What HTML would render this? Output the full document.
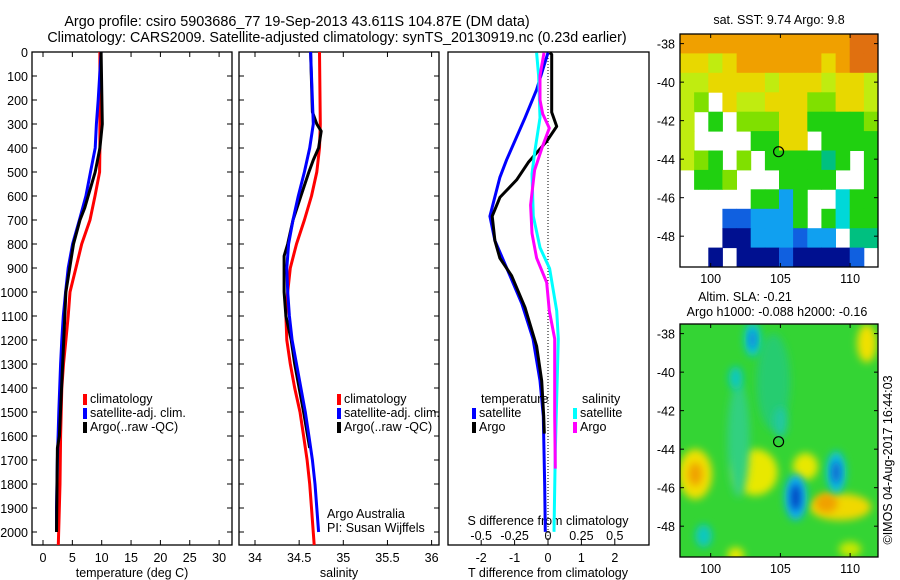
<!DOCTYPE html>
<html><head><meta charset="utf-8"><style>
body{margin:0;background:#fff;width:900px;height:580px;overflow:hidden}
svg{display:block;font-family:"Liberation Sans",sans-serif}
</style></head><body>
<svg id="fig" width="900" height="580" viewBox="0 0 900 580" xmlns="http://www.w3.org/2000/svg">
<text x="297" y="26" font-size="14.4" text-anchor="middle">Argo profile: csiro 5903686_77 19-Sep-2013 43.611S 104.87E (DM data)</text>
<text x="337" y="42" font-size="14.3" text-anchor="middle">Climatology: CARS2009. Satellite-adjusted climatology: synTS_20130919.nc (0.23d earlier)</text>
<text x="779" y="24" font-size="12.5" text-anchor="middle">sat. SST: 9.74 Argo: 9.8</text>
<text x="745" y="301" font-size="12.5" text-anchor="middle">Altim. SLA: -0.21</text>
<text x="777" y="316" font-size="12.5" text-anchor="middle">Argo h1000: -0.088 h2000: -0.16</text>
<text transform="translate(892,460) rotate(-90)" font-size="12.5" text-anchor="middle">©IMOS 04-Aug-2017 16:44:03</text>
<defs><filter id="bl" x="-50%" y="-50%" width="200%" height="200%"><feGaussianBlur stdDeviation="4"/></filter>
<clipPath id="clipB"><rect x="680" y="324" width="198" height="233"/></clipPath></defs>
</svg>
<script>
// ---------- data ----------
const tClimDepth=[0,100,300,400,500,600,700,800,900,1000,1100,1200,1300,1400,1600,1800,2054];
const tClim=[9.7,9.7,9.7,9.7,9.65,8.86,8.0,6.6,5.6,4.6,4.3,3.9,3.5,3.2,3.0,2.9,2.6];
const tSatDepth=[0,200,300,400,500,600,700,800,900,1000,1100,1200,1300,1400,1500,1700,1900,2000];
const tSat=[9.9,9.4,9.1,8.9,8.1,7.3,6.2,5.05,4.3,3.85,3.45,3.2,3.0,2.85,2.7,2.45,2.3,2.3];
const tArgoDepth=[0,300,400,500,600,650,700,800,1000,1600,1650,2000];
const tArgo=[9.9,10.1,9.7,8.9,7.7,7.1,6.3,5.2,3.9,2.8,2.45,2.3];
const sClimDepth=[0,300,400,500,600,700,800,900,1000,1100,1200,1300,1400,1500,1600,1700,1800,1900,2054];
const sClim=[34.73,34.74,34.73,34.70,34.64,34.56,34.47,34.40,34.37,34.35,34.36,34.40,34.45,34.51,34.55,34.59,34.62,34.64,34.67];
const sSatDepth=[0,200,300,400,500,600,700,800,900,1000,1100,1200,1300,1400,1500,1600,1700,1800,1900,2000];
const sSat=[34.63,34.65,34.66,34.62,34.56,34.49,34.43,34.38,34.36,34.37,34.39,34.42,34.47,34.52,34.57,34.61,34.65,34.68,34.70,34.72];
const sArgoDepth=[0,250,300,330,400,450,500,600,700,800,850,1000,1100,1200,1300,1500,1650];
const sArgo=[34.63,34.65,34.70,34.75,34.72,34.66,34.61,34.52,34.43,34.37,34.33,34.33,34.35,34.41,34.45,34.55,34.62];
const dTSatDepth=[3,157,274,449,522,684,786,902,1049,1195,1370,1517,1808,1999];
const dTSat=[0,-0.34,-0.69,-1.24,-1.44,-1.74,-1.59,-1.23,-0.78,-0.45,-0.24,-0.14,-0.1,-0.08];
const dTArgoDepth=[3,10,251,310,372,460,533,606,684,786,859,932,1064,1225,1370,1517,1590];
const dTArgo=[0.05,0.11,0.11,0.26,-0.04,-0.59,-0.94,-1.44,-1.67,-1.59,-1.44,-1.09,-0.69,-0.34,-0.19,-0.13,-0.11];
const dSSatDepth=[3,98,274,420,508,684,815,902,1078,1195,1443,1663,1999];
const dSSat=[-0.085,-0.07,-0.06,-0.1,-0.12,-0.11,-0.06,0.012,0.065,0.077,0.065,0.055,0.045];
const dSArgoDepth=[3,98,200,258,317,391,492,638,756,858,961,1078,1195,1517,1736];
const dSArgo=[-0.03,-0.06,-0.06,-0.04,0.01,-0.04,-0.1,-0.13,-0.12,-0.085,-0.01,0.01,0.05,0.05,0.055];
const depthTicks=[0,100,200,300,400,500,600,700,800,900,1000,1100,1200,1300,1400,1500,1600,1700,1800,1900,2000];
const tTicks=[0,5,10,15,20,25,30];
const sTicks=[34,34.5,35,35.5,36];
const sTickLabels=['34','34.5','35','35.5','36'];
const dTTicks=[-2,-1,0,1,2];
const dSTicks=[-0.5,-0.25,0,0.25,0.5];
const dSTickLabels=['-0.5','-0.25','0','0.25','0.5'];
const lonTicks=[100,105,110];
const latTicks=[-38,-40,-42,-44,-46,-48];
const sstGrid=[
"OOOOOOOOOOOODD",
"YYLYOOOOOOYODD",
"LLYYYYLYYYLYYL",
"LGWYLLYYYGGYYL",
"LWgWGGGYYggggG",
"LWWWWggYYWgggg",
"LGgWGWggggTgWg",
"WggGWWWggggWWg",
"WWWWWggBgWWCgg",
"WWWMMBBBgWgCgg",
"WWWNNBBBMBBWTT",
"WWNWNNNMNNNNMW"];
const sstColors={O:'#f0a000',D:'#e07010',Y:'#e8d800',L:'#c0ec10',G:'#80e000',g:'#20d010',T:'#00c080',C:'#00d8d8',B:'#10a0f0',M:'#1060e0',N:'#001090',W:'#ffffff'};
const argoLon=104.87, argoLat=-43.611;
// SLA blobs: [lon, lat, rLon, rLat, colour]
const slaBlobs=[
[98.9,-45.3,1.2,1.3,'#f0e000'],[98.9,-45.3,0.5,0.6,'#f0a000'],
[103.2,-45.2,1.6,1.2,'#e8e800'],[106.8,-44.9,0.9,0.7,'#e8e800'],
[109.3,-47.0,2.2,0.7,'#f0d800'],[108.3,-46.8,0.8,0.5,'#f0a000'],
[111.2,-38.5,0.7,1.0,'#f0e000'],[101.8,-49.5,0.6,0.4,'#e8e800'],[110.0,-49.2,0.8,0.4,'#c8e800'],
[102.0,-43.5,0.8,3.0,'#30d080'],[104.5,-40.5,1.2,2.5,'#28cc70'],[99.5,-48.5,0.6,0.6,'#10c8c0'],
[103.0,-38.3,0.6,0.9,'#10c8d0'],[103.0,-38.3,0.25,0.5,'#1080e0'],
[101.8,-40.3,0.5,0.6,'#10c8c0'],[105.0,-42.6,0.5,0.8,'#20c8a0'],
[106.1,-46.5,0.8,1.2,'#10b0f0'],[106.1,-46.5,0.35,0.7,'#0040c0'],
[109.0,-45.2,0.7,1.1,'#10c0e0'],[109.0,-45.2,0.3,0.6,'#1060d0']];

const svg=document.getElementById('fig');
const NS='http://www.w3.org/2000/svg';
function mk(tag,attrs,name,parent){const el=document.createElementNS(NS,tag);for(const k in attrs)el.setAttribute(k,attrs[k]);


(parent||svg).appendChild(el);return el;}
function txt(x,y,s,name,anchor,size){const t=mk('text',{x:x,y:y,'font-size':size||12.5,'text-anchor':anchor||'middle'},name);t.textContent=s;return t;}

const top0=52,bot0=545;
const yD=d=>top0+d*0.24;
function panel(x0,x1,xs,ticks,labels,name,xlab){
  mk('rect',{x:x0,y:top0,width:x1-x0,height:bot0-top0,fill:'none',stroke:'#000','stroke-width':1.3},name+'-frame');
  depthTicks.forEach(d=>{mk('line',{x1:x0,x2:x0+5,y1:yD(d),y2:yD(d),stroke:'#000'},name+'-ytick');mk('line',{x1:x1-5,x2:x1,y1:yD(d),y2:yD(d),stroke:'#000'},name+'-ytick');});
  ticks.forEach((v,i)=>{const x=xs(v);mk('line',{x1:x,x2:x,y1:bot0,y2:bot0-5,stroke:'#000'},name+'-xtick');mk('line',{x1:x,x2:x,y1:top0,y2:top0+5,stroke:'#000'},name+'-xtick');if(labels)txt(x,562,labels[i],name+'-xtick-label');});
  if(xlab)txt((x0+x1)/2,577,xlab,name+'-x-axis-title');
}
function line(xs,vals,depths,col,name){
  let p='';for(let i=0;i<vals.length;i++)p+=xs(vals[i]).toFixed(1)+','+yD(depths[i]).toFixed(1)+' ';
  mk('polyline',{points:p,fill:'none',stroke:col,'stroke-width':3,'stroke-linejoin':'round'},name);
}
function legendEntry(x,y,col,label,name){mk('rect',{x:x,y:y-9,width:4,height:11,fill:col},name+'-swatch');txt(x+7,y,label,name,'start',12.5);}

depthTicks.forEach(d=>txt(28,yD(d)+5,String(d),'depth-tick-label','end',12.5));

const xT=v=>43+v*5.87;
panel(32,232,xT,tTicks,tTicks.map(String),'temperature-panel','temperature (deg C)');
line(xT,tClim,tClimDepth,'#ff0000','temp-climatology-line');
line(xT,tSat,tSatDepth,'#0000ff','temp-satellite-line');
line(xT,tArgo,tArgoDepth,'#000000','temp-argo-line');
legendEntry(83,403,'#ff0000','climatology','temp-legend-climatology');
legendEntry(83,417,'#0000ff','satellite-adj. clim.','temp-legend-satellite');
legendEntry(83,431,'#000000','Argo(..raw -QC)','temp-legend-argo');

const xS=v=>255+(v-34)*88.3;
panel(239,439,xS,sTicks,sTickLabels,'salinity-panel','salinity');
line(xS,sClim,sClimDepth,'#ff0000','sal-climatology-line');
line(xS,sArgo,sArgoDepth,'#000000','sal-argo-line');
line(xS,sSat,sSatDepth,'#0000ff','sal-satellite-line');
legendEntry(337,403,'#ff0000','climatology','sal-legend-climatology');
legendEntry(337,417,'#0000ff','satellite-adj. clim.','sal-legend-satellite');
legendEntry(337,431,'#000000','Argo(..raw -QC)','sal-legend-argo');
txt(327,518,'Argo Australia','argo-australia-label','start',12.5);
txt(327,532,'PI: Susan Wijffels','pi-label','start',12.5);

const xdT=v=>548+v*33.4;
const xdS=v=>548+v*133.6;
mk('rect',{x:448,y:top0,width:201,height:bot0-top0,fill:'none',stroke:'#000','stroke-width':1.3},'difference-panel-frame');
mk('line',{x1:548,x2:548,y1:top0,y2:bot0,stroke:'#000','stroke-dasharray':'1,2'},'zero-reference-line');
dTTicks.forEach(v=>{mk('line',{x1:xdT(v),x2:xdT(v),y1:bot0,y2:bot0-5,stroke:'#000'},'tdiff-xtick');txt(xdT(v),562,String(v),'tdiff-tick-label');});
dSTicks.forEach((v,i)=>txt(xdS(v),540,dSTickLabels[i],'sdiff-tick-label'));
txt(548,525,'S difference from climatology','sdiff-axis-title');
txt(548,577,'T difference from climatology','tdiff-axis-title');
line(xdT,dTSat,dTSatDepth,'#0000ff','tdiff-satellite-line');
line(xdT,dTArgo,dTArgoDepth,'#000000','tdiff-argo-line');
line(xdS,dSSat,dSSatDepth,'#00ffff','sdiff-satellite-line');
line(xdS,dSArgo,dSArgoDepth,'#ff00ff','sdiff-argo-line');
txt(481,403,'temperature','diff-legend-temperature-header','start',12.5);
legendEntry(472,417,'#0000ff','satellite','diff-legend-temp-satellite');
legendEntry(472,431,'#000000','Argo','diff-legend-temp-argo');
txt(582,403,'salinity','diff-legend-salinity-header','start',12.5);
legendEntry(573,417,'#00ffff','satellite','diff-legend-sal-satellite');
legendEntry(573,431,'#ff00ff','Argo','diff-legend-sal-argo');

const mx0=680,mx1=878,lon0=97.8,lon1=112;
const mLon=v=>mx0+(v-lon0)*(mx1-mx0)/(lon1-lon0);
function mapAxes(ty0,ty1,name){
  const mLat=v=>ty0+(-37.5-v)*(ty1-ty0)/12.1;
  mk('rect',{x:mx0,y:ty0,width:mx1-mx0,height:ty1-ty0,fill:'none',stroke:'#000','stroke-width':1.3},name+'-frame');
  lonTicks.forEach(v=>{mk('line',{x1:mLon(v),x2:mLon(v),y1:ty1,y2:ty1-4,stroke:'#000'},name+'-lon-tick');mk('line',{x1:mLon(v),x2:mLon(v),y1:ty0,y2:ty0+4,stroke:'#000'},name+'-lon-tick');txt(mLon(v),ty1+16,String(v),name+'-lon-label');});
  latTicks.forEach(v=>{mk('line',{x1:mx0,x2:mx0+4,y1:mLat(v),y2:mLat(v),stroke:'#000'},name+'-lat-tick');mk('line',{x1:mx1-4,x2:mx1,y1:mLat(v),y2:mLat(v),stroke:'#000'},name+'-lat-tick');txt(mx0-5,mLat(v)+5,String(v),name+'-lat-label','end',12.5);});
  mk('circle',{cx:mLon(argoLon),cy:mLat(argoLat),r:5,fill:'none',stroke:'#000','stroke-width':1.2},name+'-argo-location');
}
const sy0=34,sy1=267,cw=(mx1-mx0)/14,ch=(sy1-sy0)/12;
sstGrid.forEach((row,r)=>{for(let c=0;c<14;c++){const col=sstColors[row[c]];if(row[c]!=='W')mk('rect',{x:(mx0+c*cw).toFixed(1),y:(sy0+r*ch).toFixed(1),width:(cw+0.5).toFixed(1),height:(ch+0.5).toFixed(1),fill:col},'sst-cell');}});
mapAxes(sy0,sy1,'sst-map');
const by0=324,by1=557;
const g=mk('g',{'clip-path':'url(#clipB)'},'sla-field');
mk('rect',{x:mx0,y:by0,width:mx1-mx0,height:by1-by0,fill:'#34d434'},'sla-background',g);
const bLat=v=>by0+(-37.5-v)*(by1-by0)/12.1, kx=(mx1-mx0)/(lon1-lon0), ky=(by1-by0)/12.1;
slaBlobs.forEach(b=>mk('ellipse',{cx:mLon(b[0]),cy:bLat(b[1]),rx:b[2]*kx,ry:b[3]*ky,fill:b[4],filter:'url(#bl)'},'sla-anomaly',g));
mapAxes(by0,by1,'sla-map');
</script>
</body></html>
